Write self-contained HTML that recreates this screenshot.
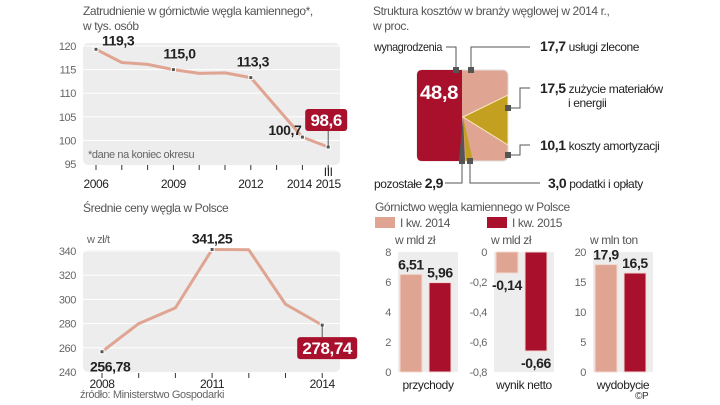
<!DOCTYPE html>
<html><head><meta charset="utf-8">
<style>
html,body{margin:0;padding:0;background:#fff;}
svg{display:block;font-family:"Liberation Sans Narrow","Liberation Sans",sans-serif;letter-spacing:-0.4px;}
.t{fill:#555;font-size:12px;}
.ax{fill:#666;font-size:11px;}
.v{fill:#222;font-size:14px;font-weight:bold;}
.yr{fill:#222;font-size:12px;}
</style></head>
<body>
<svg id="c" width="720" height="405" viewBox="0 0 720 405" xmlns="http://www.w3.org/2000/svg">
<rect width="720" height="405" fill="#fff"/>
<g id="emp">
<text x="83" y="15" class="t">Zatrudnienie w górnictwie węgla kamiennego*,</text>
<text x="83" y="30" class="t">w tys. osób</text>
<rect x="83" y="43" width="257" height="122" rx="5" fill="#ededed"/>
<text x="88" y="158" class="ax" font-size="10">*dane na koniec okresu</text>
</g>
<g id="price">
<text x="83" y="212" class="t">Średnie ceny węgla w Polsce</text>
<text x="87" y="243" class="ax">w zł/t</text>
<rect x="83" y="250" width="257" height="122" rx="5" fill="#ededed"/>
<text x="80" y="398" class="ax" font-size="10">źródło: Ministerstwo Gospodarki</text>
</g>
<g id="cost">
<text x="373" y="15" class="t">Struktura kosztów w branży węglowej w 2014 r.,</text>
<text x="373" y="30" class="t">w proc.</text>
<rect x="417" y="70" width="91" height="91" rx="5" fill="#e0a592" stroke="#ddd"/>
<path d="M422,70 H462 V161 H422 Q417,161 417,156 V75 Q417,70 422,70Z" fill="#a8102c"/>
<polygon points="463,117 508,95 508,145" fill="#c4a020" stroke="#f5e9c0" stroke-width="1"/>
<polygon points="463,117 459,161 465,161" fill="#555"/>
<polygon points="463,117 466,161 473,161" fill="#c4a020"/>
<text x="439" y="99" text-anchor="middle" fill="#fff" font-size="19" font-weight="bold" textLength="38" lengthAdjust="spacingAndGlyphs">48,8</text>
<g fill="none" stroke="#555" stroke-width="1">
<path d="M446,47 H456 V70"/><path d="M530,47 H471 V70"/><path d="M530,88 H520 V108 H508"/><path d="M530,145 H520 V155 H508"/><path d="M445,183 H462 V161"/><path d="M540,183 H470 V161"/>
</g>
<g fill="#555">
<rect x="453" y="67" width="6" height="6"/><rect x="468" y="67" width="6" height="6"/><rect x="505" y="105" width="6" height="6"/><rect x="505" y="152" width="6" height="6"/><rect x="459" y="158" width="6" height="6"/><rect x="467" y="158" width="6" height="6"/>
</g>
<text x="374" y="51" class="yr" textLength="68" lengthAdjust="spacingAndGlyphs">wynagrodzenia</text>
<text x="540" y="51" class="yr"><tspan font-weight="bold" font-size="14">17,7</tspan> usługi zlecone</text>
<text x="540" y="93" class="yr"><tspan font-weight="bold" font-size="14">17,5</tspan> zużycie materiałów</text>
<text x="568" y="107" class="yr">i energii</text>
<text x="540" y="150" class="yr"><tspan font-weight="bold" font-size="14">10,1</tspan> koszty amortyzacji</text>
<text x="374" y="188" class="yr">pozostałe <tspan font-weight="bold" font-size="14">2,9</tspan></text>
<text x="548" y="188" class="yr"><tspan font-weight="bold" font-size="14">3,0</tspan> podatki i opłaty</text>
</g>
<g id="bars">
<text x="375" y="211" class="t">Górnictwo węgla kamiennego w Polsce</text>
<rect x="375" y="217" width="20" height="11" fill="#e0a592"/>
<text x="400" y="227" class="t">I kw. 2014</text>
<rect x="487" y="217" width="20" height="11" fill="#a8102c"/>
<text x="512" y="227" class="t">I kw. 2015</text>
<text x="635" y="399" font-size="10" fill="#333">©P</text>
</g>
</svg>
<script>
const NS="http://www.w3.org/2000/svg";
const svg=document.getElementById('c');
function mk(tag,attrs,parent,txt){const e=document.createElementNS(NS,tag);for(const k in attrs)e.setAttribute(k,attrs[k]);if(txt!==undefined)e.textContent=txt;(parent||svg).appendChild(e);return e;}

// Employment data
const empYears=[2006,2007,2008,2009,2010,2011,2012,2013,2014,2015];
const empValues=[119.3,116.5,116.1,115.0,114.2,114.3,113.3,107.0,100.7,98.6];
const empTicks=[95,100,105,110,115,120];
const empLabelYears=["2006","2009","2012","2014","2015"];
const empLabelled=[0,3,6,8];
// Price data
const priceYears=[2008,2009,2010,2011,2012,2013,2014];
const priceValues=[256.78,280,293,341.25,341,296,278.74];
const priceTicks=[240,260,280,300,320,340];
const priceLabelYears=["2008","2011","2014"];
// Bars data
const barCats=["przychody","wynik netto","wydobycie"];
const barUnits=["w mld zł","w mld zł","w mln ton"];
const bars2014=[6.51,-0.14,17.9];
const bars2015=[5.96,-0.66,16.5];
const barLabels2014=["6,51","-0,14","17,9"];
const barLabels2015=["5,96","-0,66","16,5"];
const barTicks=[[0,2,4,6,8],[-0.8,-0.6,-0.4,-0.2,0],[0,5,10,15,20]];
const barTickLabels=[["0","2","4","6","8"],["-0,8","-0,6","-0,4","-0,2","0"],["0","5","10","15","20"]];

// employment axes
const eg=document.getElementById('emp');
const ex=y=>96+(y-2006)*25.8, ey=v=>164-(v-95)*4.72;
empTicks.forEach(t=>{
 if(t>95){const l=mk('line',{x1:83,x2:340,y1:ey(t),y2:ey(t),stroke:'#fff','stroke-width':1},eg);
 
 }
 const tx=mk('text',{x:76,y:ey(t)+4,'text-anchor':'end',class:'ax'},eg,String(t));
 
 
});
empYears.forEach(y=>{mk('line',{x1:ex(y),x2:ex(y),y1:165,y2:170,stroke:'#333'},eg);});
const eLine=mk('polyline',{points:empYears.map((y,i)=>ex(y)+','+ey(empValues[i])).join(' '),fill:'none',stroke:'#e0a592','stroke-width':3,'stroke-linejoin':'round'},eg);


[0,3,6,8,9].forEach(i=>{const p=mk('rect',{x:ex(empYears[i])-2,y:ey(empValues[i])-2,width:4,height:4,fill:'#555',stroke:'#fff'},eg);
 
 });
const offs=[[6,-4],[-10,-11],[-14,-11],[-34,-2]];
empLabelled.forEach((i,k)=>{const t=mk('text',{x:ex(empYears[i])+offs[k][0],y:ey(empValues[i])+offs[k][1],class:'v'},eg,empValues[i].toFixed(1).replace('.',','));
 
 });
{const i=9,x=ex(empYears[i]),y=ey(empValues[i]);
 mk('line',{x1:x,x2:x,y1:y,y2:y-17,stroke:'#555'},eg);
 const r=mk('rect',{x:x-23,y:y-38,width:42,height:22,rx:3,fill:'#a8102c'},eg);
 
 
 const t=mk('text',{x:x-2,y:y-21,'text-anchor':'middle',fill:'#fff','font-size':17,'font-weight':'bold'},eg,empValues[i].toFixed(1).replace('.',','));
 
 }
[2006,2009,2012,2014,2015].forEach((y,k)=>{const t=mk('text',{x:ex(y)+(y===2014?-3:0),y:188,'text-anchor':'middle',class:'yr','font-size':13},eg,empLabelYears[k]);
 
 });
mk('text',{x:ex(2015),y:176,'text-anchor':'middle',class:'yr','font-size':10},eg,'III');

// price chart
const pg=document.getElementById('price');
const px=y=>102+(y-2008)*36.7, py=v=>372-(v-240)*1.21;
priceTicks.forEach(t=>{
 if(t>240){const l=mk('line',{x1:83,x2:340,y1:py(t),y2:py(t),stroke:'#fff'},pg);
 
 }
 const tx=mk('text',{x:76,y:py(t)+4,'text-anchor':'end',class:'ax'},pg,String(t));
 
 
});
priceYears.forEach(y=>mk('line',{x1:px(y),x2:px(y),y1:373,y2:378,stroke:'#333'},pg));
const pLine=mk('polyline',{points:priceYears.map((y,i)=>px(y)+','+py(priceValues[i])).join(' '),fill:'none',stroke:'#e0a592','stroke-width':3,'stroke-linejoin':'round'},pg);


[0,3,6].forEach(i=>{const p=mk('rect',{x:px(priceYears[i])-2,y:py(priceValues[i])-2,width:4,height:4,fill:'#555',stroke:'#fff'},pg);
 
 });
{const t=mk('text',{x:px(2008)-12,y:py(priceValues[0])+20,class:'v'},pg,priceValues[0].toFixed(2).replace('.',','));
 
 
 const t2=mk('text',{x:px(2011),y:py(priceValues[3])-6,'text-anchor':'middle',class:'v'},pg,priceValues[3].toFixed(2).replace('.',','));
 
 
 const x=px(2014),y=py(priceValues[6]);
 mk('line',{x1:x,x2:x,y1:y,y2:y+12,stroke:'#555'},pg);
 const r=mk('rect',{x:x-25,y:y+12,width:60,height:22,rx:3,fill:'#a8102c'},pg);
 
 
 const t3=mk('text',{x:x+5,y:y+29,'text-anchor':'middle',fill:'#fff','font-size':17,'font-weight':'bold'},pg,priceValues[6].toFixed(2).replace('.',','));
 
 }
[2008,2011,2014].forEach((y,k)=>{const t=mk('text',{x:px(y),y:388,'text-anchor':'middle',class:'yr','font-size':13},pg,priceLabelYears[k]);
 
 });

// bars
const bg=document.getElementById('bars');
const panelX=[398,494,593];
const panelTop=252,panelBot=372;
barCats.forEach((c,i)=>{
 const ticks=barTicks[i],mn=ticks[0],mx=ticks[ticks.length-1];
 const sy=v=>panelBot-(v-mn)/(mx-mn)*(panelBot-panelTop);
 const x0=panelX[i];
 const pb=mk('rect',{x:x0,y:panelTop,width:60,height:panelBot-panelTop,fill:'#ededed'},bg);
 
 
 ticks.forEach((t,k)=>{const tx=mk('text',{x:x0-7,y:sy(t)+4,'text-anchor':'end',class:'ax'},bg,barTickLabels[i][k]);
  
  });
 const u=mk('text',{x:x0-3,y:244,class:'t'},bg,barUnits[i]);
 
 
 [[bars2014,'#e0a592',2,barLabels2014],[bars2015,'#a8102c',31,barLabels2015]].forEach(([arr,col,dx,lab])=>{
  const v=arr[i],y1=sy(0),y2=sy(v);
  const b=mk('rect',{x:x0+dx,y:Math.min(y1,y2),width:22,height:Math.abs(y2-y1),fill:col,stroke:'#f3d8cf','stroke-width':1},bg);
  
  
  const ly=v>=0?y2-5:y2+17;
  const t=mk('text',{x:x0+dx+11,y:ly,'text-anchor':'middle',class:'v','font-size':15},bg,lab[i]);
  
  
 });
 const cl=mk('text',{x:x0+30,y:389,'text-anchor':'middle',class:'yr','font-size':13},bg,c);
 
 
});
</script>
</body></html>
